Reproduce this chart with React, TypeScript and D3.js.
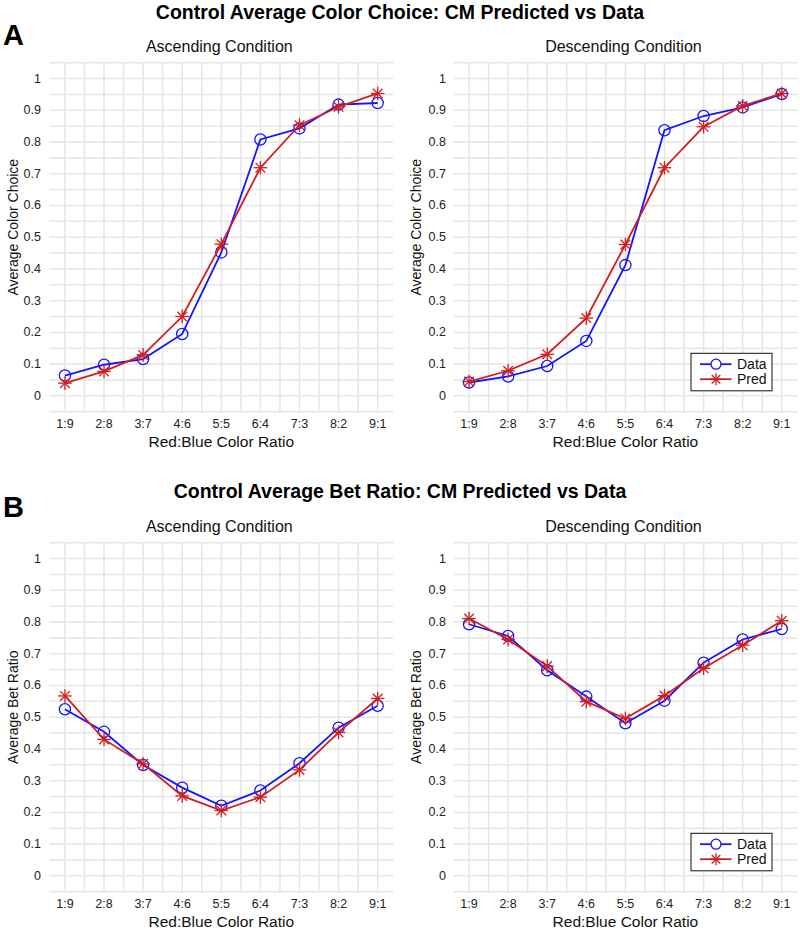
import React from "react";
import * as d3 from "d3";

const ratios = ["1:9", "2:8", "3:7", "4:6", "5:5", "6:4", "7:3", "8:2", "9:1"];
const yTicks = [0, 0.1, 0.2, 0.3, 0.4, 0.5, 0.6, 0.7, 0.8, 0.9, 1];

const colorAscData = [0.064, 0.098, 0.116, 0.195, 0.452, 0.808, 0.843, 0.918, 0.923];
const colorAscPred = [0.04, 0.077, 0.129, 0.25, 0.478, 0.719, 0.853, 0.911, 0.953];
const colorDescData = [0.042, 0.061, 0.094, 0.173, 0.412, 0.837, 0.882, 0.909, 0.951];
const colorDescPred = [0.045, 0.079, 0.131, 0.245, 0.477, 0.719, 0.848, 0.914, 0.953];

const betAscData = [0.525, 0.454, 0.349, 0.278, 0.221, 0.269, 0.355, 0.467, 0.536];
const betAscPred = [0.567, 0.43, 0.353, 0.252, 0.206, 0.248, 0.334, 0.452, 0.559];
const betDescData = [0.793, 0.756, 0.648, 0.565, 0.481, 0.552, 0.672, 0.745, 0.778];
const betDescPred = [0.811, 0.745, 0.661, 0.549, 0.496, 0.568, 0.654, 0.727, 0.804];

const BLUE = "#1414ff";
const RED = "#d21f1f";
const GRID = "#e5e5e5";
const FONT = "'Liberation Sans', Arial, Helvetica, sans-serif";

type PanelProps = {
  x0: number; x1: number; y0: number; y1: number;
  data: number[]; pred: number[];
  subtitle: string; yLabel: string; yLabelX: number; tickX: number;
  legend: boolean;
};

function Star({ cx, cy, r, color }: { cx: number; cy: number; r: number; color: string }) {
  const d = r * Math.SQRT1_2;
  return (
    <g stroke={color} strokeWidth={1.3}>
      <line x1={cx - r} y1={cy} x2={cx + r} y2={cy} />
      <line x1={cx} y1={cy - r} x2={cx} y2={cy + r} />
      <line x1={cx - d} y1={cy - d} x2={cx + d} y2={cy + d} />
      <line x1={cx - d} y1={cy + d} x2={cx + d} y2={cy - d} />
    </g>
  );
}

function Panel(p: PanelProps) {
  const x = d3.scaleLinear().domain([0.6, 9.4]).range([p.x0, p.x1]);
  const y = d3.scaleLinear().domain([-0.05, 1.05]).range([p.y1, p.y0]);
  const idx = ratios.map((_, i) => i + 1);
  const line = d3.line<number>().x((_, i) => x(i + 1)).y((v) => y(v));
  const vGrid = d3.range(1, 9.01, 0.5);
  const hGrid = d3.range(-0.05, 1.051, 0.05);
  const cxMid = (p.x0 + p.x1) / 2;
  return (
    <g fontFamily={FONT}>
      {vGrid.map((g) => (
        <line key={"v" + g} x1={x(g)} x2={x(g)} y1={p.y0} y2={p.y1} stroke={GRID} strokeWidth={1.5} />
      ))}
      {hGrid.map((g) => (
        <line key={"h" + g} x1={p.x0} x2={p.x1} y1={y(g)} y2={y(g)} stroke={GRID} strokeWidth={1.5} />
      ))}
      {yTicks.map((t) => (
        <text key={"yt" + t} x={p.tickX} y={y(t)} textAnchor="end" dominantBaseline="central" fontSize={12.5} fill="#222">
          {t === 0 || t === 1 ? String(t) : t.toFixed(1)}
        </text>
      ))}
      {ratios.map((r, i) => (
        <text key={"xt" + r} x={x(i + 1)} y={p.y1 + 16.5} textAnchor="middle" fontSize={12.5} fill="#222">
          {r}
        </text>
      ))}
      <text x={cxMid} y={p.y1 + 35.5} textAnchor="middle" fontSize={15.5} fill="#111">Red:Blue Color Ratio</text>
      <text x={cxMid - 2} y={p.y0 - 11} textAnchor="middle" fontSize={16} fill="#111">{p.subtitle}</text>
      <text transform={`translate(${p.yLabelX},${(p.y0 + p.y1) / 2 - 10}) rotate(-90)`} textAnchor="middle" dominantBaseline="central" fontSize={14} fill="#111">
        {p.yLabel}
      </text>
      <path d={line(p.data) || ""} fill="none" stroke={BLUE} strokeWidth={1.8} />
      {p.data.map((v, i) => (
        <circle key={"c" + i} cx={x(idx[i])} cy={y(v)} r={5.6} fill="none" stroke={BLUE} strokeWidth={1.3} />
      ))}
      <path d={line(p.pred) || ""} fill="none" stroke={RED} strokeWidth={1.8} />
      {p.pred.map((v, i) => (
        <Star key={"s" + i} cx={x(idx[i])} cy={y(v)} r={6.8} color={RED} />
      ))}
      {p.legend && (
        <g>
          <rect x={691} y={p.y0 + 290.6} width={81} height={37.5} fill="#fff" stroke="#111" strokeWidth={1} />
          <line x1={700} x2={731.5} y1={p.y0 + 301.5} y2={p.y0 + 301.5} stroke={BLUE} strokeWidth={1.8} />
          <circle cx={716} cy={p.y0 + 301.5} r={5} fill="#fff" stroke={BLUE} strokeWidth={1.3} />
          <text x={737} y={p.y0 + 301.5} dominantBaseline="central" fontSize={14} fill="#111">Data</text>
          <line x1={700} x2={731.5} y1={p.y0 + 316.5} y2={p.y0 + 316.5} stroke={RED} strokeWidth={1.8} />
          <Star cx={716} cy={p.y0 + 316.5} r={6} color={RED} />
          <text x={737} y={p.y0 + 316.5} dominantBaseline="central" fontSize={14} fill="#111">Pred</text>
        </g>
      )}
    </g>
  );
}

export default function App() {
  const L = { x0: 49.3, x1: 393.3 };
  const R = { x0: 453.4, x1: 797.4 };
  const tops = [62.7, 542.7];
  const h = 349;
  return (
    <svg width={800} height={930} style={{ position: "absolute", left: 0, top: 0, background: "#fff" }} fontFamily={FONT}>
      <rect width={800} height={930} fill="#fff" />
      <text x={400} y={18.5} textAnchor="middle" fontSize={19.5} fontWeight="bold" fill="#000">
        Control Average Color Choice: CM Predicted vs Data
      </text>
      <text x={3} y={45} fontSize={29} fontWeight="bold" fill="#000">A</text>
      <text x={400} y={498} textAnchor="middle" fontSize={19.5} fontWeight="bold" fill="#000">
        Control Average Bet Ratio: CM Predicted vs Data
      </text>
      <text x={3} y={517} fontSize={29} fontWeight="bold" fill="#000">B</text>

      <Panel x0={L.x0} x1={L.x1} y0={tops[0]} y1={tops[0] + h} data={colorAscData} pred={colorAscPred}
        subtitle="Ascending Condition" yLabel="Average Color Choice" yLabelX={12.5} tickX={41} legend={false} />
      <Panel x0={R.x0} x1={R.x1} y0={tops[0]} y1={tops[0] + h} data={colorDescData} pred={colorDescPred}
        subtitle="Descending Condition" yLabel="Average Color Choice" yLabelX={416} tickX={446} legend={true} />
      <Panel x0={L.x0} x1={L.x1} y0={tops[1]} y1={tops[1] + h} data={betAscData} pred={betAscPred}
        subtitle="Ascending Condition" yLabel="Average Bet Ratio" yLabelX={12.5} tickX={41} legend={false} />
      <Panel x0={R.x0} x1={R.x1} y0={tops[1]} y1={tops[1] + h} data={betDescData} pred={betDescPred}
        subtitle="Descending Condition" yLabel="Average Bet Ratio" yLabelX={416} tickX={446} legend={true} />
    </svg>
  );
}
